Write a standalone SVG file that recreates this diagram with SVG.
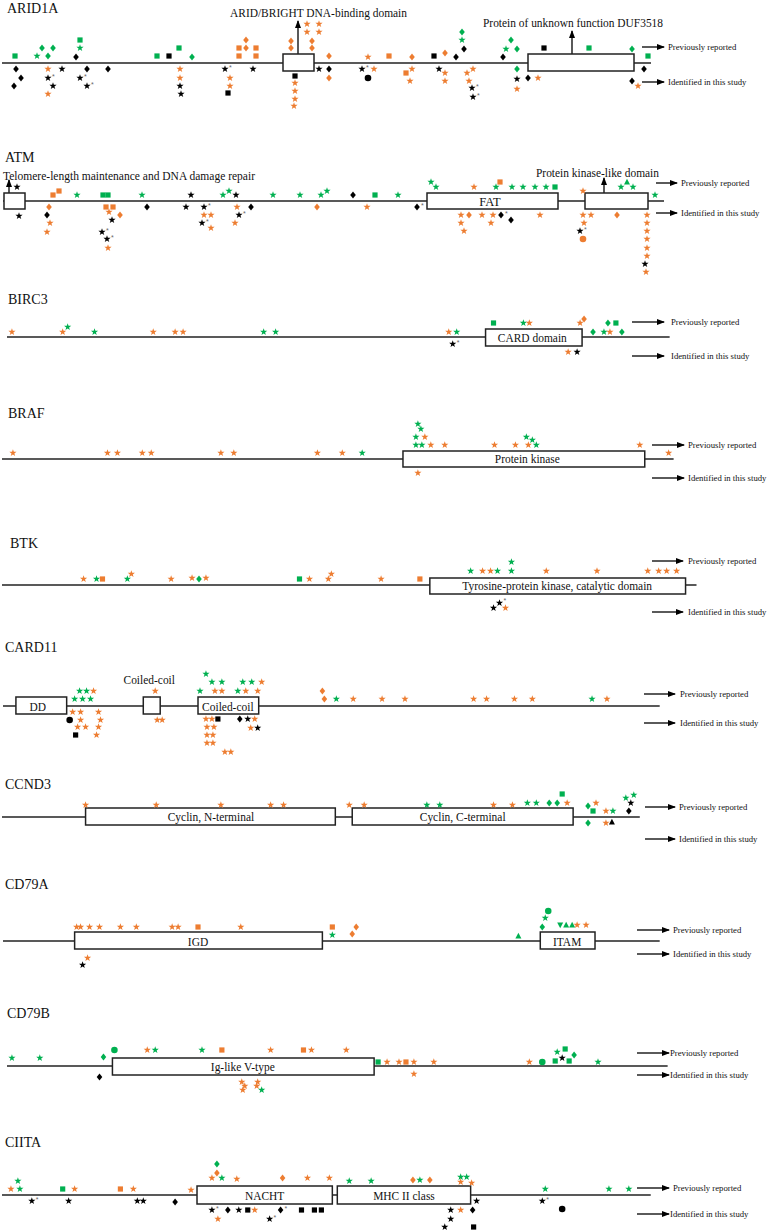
<svg xmlns="http://www.w3.org/2000/svg" xmlns:xlink="http://www.w3.org/1999/xlink" width="768" height="1232" viewBox="0 0 768 1232">
<style>
.t{font-family:"Liberation Serif",serif;font-size:14px;fill:#111}
.d{font-family:"Liberation Serif",serif;font-size:11.5px;text-anchor:middle;fill:#111}
.lab{font-family:"Liberation Serif",serif;font-size:11.5px;fill:#111}
.lg{font-family:"Liberation Serif",serif;font-size:8.7px;fill:#111}
.ln{stroke:#222;stroke-width:1.5;fill:none}
.bx{fill:#fff;stroke:#222;stroke-width:1.5}
.ar{stroke:#000;stroke-width:1.3;fill:none;marker-end:url(#ah)}
.o{fill:#ED7D31}.g{fill:#00B050}.k{fill:#000}
.a{font-family:"Liberation Sans",sans-serif;font-size:7px;fill:#666}
</style>
<defs>
<marker id="ah" markerWidth="8" markerHeight="6" refX="7" refY="3" orient="auto" markerUnits="userSpaceOnUse"><path d="M0,0 L8,3 L0,6 z" fill="#000"/></marker>
<polygon id="S" points="0,-3.8 0.88,-1.21 3.61,-1.17 1.43,0.46 2.23,3.07 0,1.5 -2.23,3.07 -1.43,0.46 -3.61,-1.17 -0.88,-1.21"/>
<polygon id="D" points="0,-3.6 2.8,0 0,3.6 -2.8,0"/>
<rect id="Q" x="-2.6" y="-2.6" width="5.2" height="5.2"/>
<circle id="C" r="3.3"/>
<polygon id="T" points="0,-3.2 3,2.6 -3,2.6"/>
<polygon id="V" points="0,3.2 3,-2.6 -3,-2.6"/>
</defs>
<rect width="768" height="1232" fill="#fff"/>

<g id="connectors">
<line class="ar" x1="298" y1="54" x2="298" y2="21"/>
<line class="ar" x1="572" y1="54" x2="572" y2="31"/>
<line class="ar" x1="642" y1="47" x2="664" y2="47"/>
<line class="ar" x1="642" y1="82" x2="664" y2="82"/>
<line class="ar" x1="9" y1="193" x2="9" y2="180"/>
<line class="ar" x1="604" y1="193" x2="604" y2="178"/>
<line class="ar" x1="656" y1="183" x2="677" y2="183"/>
<line class="ar" x1="656" y1="213" x2="677" y2="213"/>
<line class="ar" x1="632" y1="322" x2="664" y2="322"/>
<line class="ar" x1="632" y1="356" x2="664" y2="356"/>
<line class="ar" x1="652" y1="445" x2="684" y2="445"/>
<line class="ar" x1="652" y1="478" x2="684" y2="478"/>
<line class="ar" x1="652" y1="561" x2="683" y2="561"/>
<line class="ar" x1="652" y1="612" x2="683" y2="612"/>
<line class="ar" x1="644" y1="694" x2="675" y2="694"/>
<line class="ar" x1="644" y1="723" x2="675" y2="723"/>
<line class="ar" x1="645" y1="807" x2="675" y2="807"/>
<line class="ar" x1="645" y1="839" x2="675" y2="839"/>
<line class="ar" x1="637" y1="930" x2="669" y2="930"/>
<line class="ar" x1="637" y1="954" x2="669" y2="954"/>
<line class="ar" x1="637" y1="1053" x2="669" y2="1053"/>
<line class="ar" x1="637" y1="1075" x2="669" y2="1075"/>
<line class="ar" x1="637" y1="1188" x2="669" y2="1188"/>
<line class="ar" x1="637" y1="1214" x2="669" y2="1214"/>
</g>

<g id="arid1a">
<text class="t" x="7" y="13">ARID1A</text>
<text class="lab" x="230" y="17" textLength="177" lengthAdjust="spacingAndGlyphs">ARID/BRIGHT DNA-binding domain</text>
<text class="lab" x="483" y="27" textLength="180" lengthAdjust="spacingAndGlyphs">Protein of unknown function DUF3518</text>
<text class="lg" x="668" y="50">Previously reported</text>
<text class="lg" x="668" y="85">Identified in  this study</text>
<line class="ln" x1="2" y1="63" x2="651" y2="63"/>
<rect class="bx" x="283" y="54" width="31" height="17"/>
<rect class="bx" x="528" y="54" width="106" height="17"/>
<use href="#Q" class="g" x="15" y="56"/><use href="#D" class="g" x="42" y="48"/><use href="#D" class="g" x="53" y="48"/><use href="#S" class="g" x="37" y="56"/><use href="#D" class="g" x="48" y="56"/><use href="#Q" class="g" x="80" y="40"/><use href="#S" class="g" x="80" y="48"/><use href="#D" class="k" x="76" y="57"/>
<use href="#Q" class="g" x="157" y="56"/><use href="#Q" class="k" x="169" y="56"/><use href="#Q" class="g" x="179" y="48"/><use href="#D" class="g" x="192" y="57"/>
<use href="#D" class="o" x="246" y="40"/><use href="#Q" class="o" x="239" y="48"/><use href="#D" class="o" x="246" y="48"/><use href="#Q" class="o" x="256" y="48"/><use href="#Q" class="o" x="239" y="56"/><use href="#Q" class="o" x="256" y="56"/>
<use href="#D" class="o" x="291" y="41"/><use href="#D" class="o" x="291" y="48"/><use href="#D" class="o" x="312" y="41"/><use href="#D" class="o" x="312" y="48"/>
<use href="#S" class="o" x="307" y="24"/><use href="#S" class="o" x="319" y="24"/><use href="#S" class="o" x="307" y="32"/><use href="#S" class="o" x="319" y="32"/>
<use href="#D" class="o" x="329" y="56"/><use href="#S" class="o" x="368" y="57"/>
<use href="#Q" class="o" x="389" y="56"/><use href="#D" class="o" x="412" y="57"/><use href="#Q" class="k" x="434" y="56"/><use href="#D" class="o" x="445" y="53"/><use href="#D" class="k" x="456" y="57"/><use href="#D" class="k" x="464" y="49"/><use href="#S" class="g" x="462" y="40"/><use href="#D" class="g" x="462" y="32"/>
<use href="#D" class="k" x="503" y="57"/><use href="#S" class="g" x="506" y="49"/><use href="#D" class="g" x="511" y="40"/><use href="#D" class="g" x="517" y="49"/><use href="#Q" class="k" x="544" y="48"/><use href="#Q" class="g" x="589" y="48"/><use href="#D" class="g" x="632" y="49"/><use href="#Q" class="g" x="648" y="56"/>
<use href="#D" class="k" x="16" y="69"/><use href="#D" class="k" x="21" y="78"/><use href="#D" class="k" x="14" y="86"/>
<use href="#S" class="o" x="48" y="69"/><use href="#S" class="k" x="48" y="78"/><text class="a" x="52" y="79">*</text><use href="#S" class="k" x="53" y="86"/><use href="#S" class="o" x="48" y="94"/>
<use href="#S" class="k" x="62" y="69"/>
<use href="#D" class="k" x="87" y="69"/><use href="#S" class="k" x="80" y="78"/><text class="a" x="84" y="79">*</text><use href="#S" class="k" x="87" y="86"/><text class="a" x="91" y="87">*</text>
<use href="#D" class="k" x="108" y="69"/>
<use href="#S" class="o" x="180" y="69"/><use href="#S" class="o" x="180" y="78"/><use href="#S" class="k" x="180" y="86"/><use href="#S" class="k" x="181" y="94"/>
<use href="#S" class="k" x="225" y="69"/><text class="a" x="229" y="70">*</text><use href="#S" class="o" x="230" y="78"/><use href="#S" class="o" x="230" y="86"/><use href="#Q" class="k" x="228" y="93"/>
<use href="#S" class="k" x="253" y="69"/>
<use href="#Q" class="k" x="295" y="76"/><use href="#S" class="o" x="295" y="83"/><use href="#S" class="o" x="295" y="91"/><use href="#S" class="o" x="295" y="99"/><use href="#S" class="o" x="294" y="106"/>
<use href="#S" class="k" x="319" y="69"/><use href="#D" class="k" x="329" y="69"/><use href="#D" class="o" x="329" y="78"/>
<use href="#S" class="k" x="362" y="69"/><text class="a" x="366" y="70">*</text><use href="#S" class="o" x="374" y="69"/><use href="#C" class="k" x="368" y="78"/>
<use href="#Q" class="o" x="406" y="73"/><use href="#S" class="o" x="412" y="69"/><use href="#S" class="o" x="410" y="81"/>
<use href="#S" class="k" x="439" y="69"/><use href="#S" class="o" x="445" y="73"/><use href="#S" class="o" x="445" y="81"/>
<use href="#S" class="o" x="467" y="73"/><use href="#S" class="o" x="473" y="69"/><use href="#S" class="o" x="469" y="81"/><use href="#S" class="k" x="472" y="88"/><text class="a" x="476" y="89">*</text><use href="#S" class="k" x="473" y="97"/><text class="a" x="477" y="98">*</text>
<use href="#D" class="g" x="517" y="69"/><use href="#S" class="k" x="517" y="79"/><use href="#S" class="o" x="517" y="89"/>
<use href="#D" class="k" x="528" y="78"/><use href="#S" class="o" x="538" y="78"/>
<use href="#D" class="k" x="644" y="69"/><use href="#D" class="k" x="632" y="81"/><use href="#S" class="o" x="638" y="86"/>
</g>

<g id="atm">
<text class="t" x="5" y="162">ATM</text>
<text class="lab" x="3" y="180" textLength="252" lengthAdjust="spacingAndGlyphs">Telomere-length maintenance and DNA damage repair</text>
<text class="lab" x="536" y="177" textLength="123" lengthAdjust="spacingAndGlyphs">Protein kinase-like domain</text>
<text class="lg" x="681" y="186">Previously reported</text>
<text class="lg" x="681" y="216">Identified in  this study</text>
<line class="ln" x1="3" y1="201" x2="664" y2="201"/>
<rect class="bx" x="4" y="193" width="21" height="16"/>
<rect class="bx" x="427" y="193" width="131" height="16"/>
<rect class="bx" x="585" y="193" width="63" height="16"/>
<text class="d" x="490" y="206" style="font-size:12.5px">FAT</text>
<use href="#S" class="k" x="17" y="187"/><use href="#Q" class="o" x="53" y="195"/><use href="#Q" class="o" x="59" y="191"/><use href="#S" class="g" x="77" y="195"/><use href="#Q" class="g" x="103" y="195"/><use href="#Q" class="g" x="108" y="195"/><use href="#S" class="g" x="142" y="195"/><use href="#S" class="k" x="191" y="195"/>
<use href="#S" class="g" x="223" y="195"/><use href="#S" class="g" x="229" y="191"/><use href="#S" class="k" x="236" y="195"/><use href="#S" class="g" x="273" y="195"/><use href="#S" class="g" x="300" y="195"/><use href="#S" class="g" x="321" y="195"/><use href="#S" class="g" x="327" y="191"/><use href="#D" class="k" x="353" y="195"/><use href="#Q" class="g" x="375" y="195"/>
<use href="#S" class="g" x="398" y="195"/><use href="#S" class="g" x="431" y="182"/><use href="#S" class="g" x="436" y="187"/><use href="#S" class="o" x="474" y="187"/><use href="#Q" class="o" x="500" y="182"/><use href="#S" class="g" x="496" y="187"/><use href="#S" class="g" x="512" y="187"/><use href="#S" class="g" x="523" y="187"/><use href="#S" class="g" x="535" y="187"/><use href="#S" class="g" x="546" y="187"/><use href="#Q" class="g" x="555" y="187"/><use href="#S" class="o" x="583" y="191"/><use href="#S" class="g" x="621" y="187"/><use href="#T" class="g" x="627" y="182"/><use href="#S" class="g" x="633" y="187"/><use href="#S" class="g" x="655" y="195"/>
<use href="#S" class="k" x="19" y="216"/><use href="#D" class="o" x="49" y="207"/><use href="#D" class="k" x="47" y="215"/><use href="#S" class="o" x="50" y="223"/><use href="#S" class="o" x="47" y="232"/>
<use href="#Q" class="o" x="106" y="207"/><use href="#Q" class="o" x="113" y="207"/><use href="#S" class="o" x="109" y="212"/><use href="#D" class="o" x="120" y="215"/><use href="#S" class="k" x="112" y="220"/><use href="#S" class="k" x="102" y="232"/><text class="a" x="106" y="233">*</text><use href="#S" class="k" x="107" y="239"/><text class="a" x="111" y="240">*</text><use href="#S" class="o" x="108" y="248"/>
<use href="#D" class="k" x="147" y="207"/>
<use href="#S" class="k" x="186" y="207"/><use href="#S" class="k" x="204" y="207"/><text class="a" x="208" y="208">*</text><use href="#S" class="o" x="204" y="215"/><use href="#S" class="o" x="211" y="215"/><use href="#S" class="k" x="202" y="223"/><text class="a" x="206" y="224">*</text><use href="#S" class="o" x="211" y="228"/>
<use href="#S" class="o" x="237" y="207"/><use href="#S" class="k" x="239" y="215"/><text class="a" x="243" y="216">*</text><use href="#S" class="o" x="235" y="223"/><use href="#D" class="k" x="251" y="207"/>
<use href="#D" class="o" x="317" y="207"/><use href="#S" class="o" x="367" y="207"/>
<use href="#D" class="k" x="417" y="207"/><text class="a" x="421" y="208">*</text>
<use href="#S" class="o" x="461" y="215"/><use href="#D" class="o" x="469" y="215"/><use href="#S" class="o" x="482" y="215"/><use href="#S" class="o" x="493" y="215"/><use href="#D" class="k" x="501" y="215"/><text class="a" x="505" y="216">*</text><use href="#D" class="k" x="511" y="220"/><use href="#S" class="o" x="540" y="215"/>
<use href="#S" class="o" x="461" y="223"/><use href="#S" class="o" x="491" y="223"/><use href="#S" class="o" x="464" y="231"/>
<use href="#S" class="o" x="583" y="215"/><use href="#S" class="o" x="591" y="215"/><use href="#S" class="o" x="584" y="223"/><use href="#S" class="k" x="580" y="231"/><text class="a" x="584" y="232">*</text><use href="#C" class="o" x="583" y="239"/>
<use href="#D" class="o" x="617" y="215"/>
<use href="#S" class="o" x="647" y="215"/><use href="#S" class="o" x="647" y="223"/><use href="#S" class="o" x="647" y="231"/><use href="#S" class="o" x="647" y="239"/><use href="#S" class="o" x="647" y="248"/><use href="#S" class="o" x="647" y="256"/><use href="#S" class="k" x="645" y="264"/><use href="#S" class="o" x="646" y="272"/>
</g>

<g id="birc3">
<text class="t" x="8" y="304">BIRC3</text>
<text class="lg" x="671" y="325">Previously reported</text>
<text class="lg" x="671" y="359">Identified in  this study</text>
<g transform="scale(0.995 1)">
<line class="ln" x1="7" y1="337" x2="673" y2="337"/>
<rect class="bx" x="488" y="329" width="97" height="17"/>
<text class="d" x="535" y="342">CARD domain</text>
<use href="#S" class="o" x="12" y="332"/><use href="#S" class="o" x="63" y="332"/><use href="#S" class="g" x="68" y="327"/><use href="#S" class="g" x="95" y="332"/><use href="#S" class="o" x="154" y="332"/><use href="#S" class="o" x="176" y="332"/><use href="#S" class="o" x="184" y="332"/><use href="#S" class="g" x="265" y="332"/><use href="#S" class="g" x="277" y="332"/><use href="#S" class="o" x="451" y="332"/><use href="#S" class="g" x="459" y="332"/>
<use href="#Q" class="g" x="496" y="323"/><use href="#S" class="g" x="526" y="323"/><use href="#S" class="o" x="532" y="323"/><use href="#S" class="o" x="583" y="323"/><use href="#D" class="o" x="587" y="319"/><use href="#D" class="g" x="596" y="332"/><use href="#D" class="g" x="611" y="323"/><use href="#Q" class="g" x="619" y="323"/><use href="#S" class="g" x="607" y="332"/><use href="#S" class="o" x="613" y="332"/><use href="#D" class="g" x="625" y="332"/>
<use href="#S" class="k" x="455" y="344"/><text class="a" x="459" y="345">*</text><use href="#S" class="o" x="571" y="352"/><use href="#S" class="k" x="580" y="352"/>
</g>
</g>

<g id="braf">
<text class="t" x="8" y="418">BRAF</text>
<text class="lg" x="688" y="448">Previously reported</text>
<text class="lg" x="688" y="481">Identified in  this study</text>
<g transform="scale(0.995 1)">
<line class="ln" x1="2" y1="459" x2="677" y2="459"/>
<rect class="bx" x="405" y="451" width="243" height="16"/>
<text class="d" x="530" y="463">Protein kinase</text>
<use href="#S" class="o" x="13" y="453"/><use href="#S" class="o" x="108" y="453"/><use href="#S" class="o" x="118" y="453"/><use href="#S" class="o" x="143" y="453"/><use href="#S" class="o" x="152" y="453"/><use href="#S" class="o" x="222" y="453"/><use href="#S" class="o" x="235" y="453"/><use href="#S" class="o" x="319" y="453"/><use href="#S" class="o" x="344" y="453"/><use href="#S" class="g" x="364" y="453"/>
<use href="#S" class="g" x="418" y="445"/><use href="#S" class="g" x="424" y="445"/><use href="#S" class="g" x="418" y="437"/><use href="#S" class="o" x="427" y="437"/><use href="#S" class="g" x="423" y="429"/><use href="#S" class="g" x="420" y="424"/><use href="#S" class="o" x="433" y="445"/><use href="#S" class="o" x="447" y="445"/><use href="#S" class="o" x="497" y="445"/><use href="#S" class="o" x="518" y="445"/><use href="#S" class="o" x="531" y="445"/><use href="#S" class="g" x="539" y="445"/><use href="#S" class="g" x="535" y="440"/><use href="#S" class="g" x="529" y="437"/><use href="#S" class="o" x="643" y="445"/><use href="#S" class="o" x="672" y="453"/>
<use href="#S" class="o" x="420" y="473"/>
</g>
</g>

<g id="btk">
<text class="t" x="10" y="548">BTK</text>
<text class="lg" x="688" y="564">Previously reported</text>
<text class="lg" x="688" y="615">Identified in  this study</text>
<g transform="scale(0.995 1)">
<line class="ln" x1="2" y1="585" x2="700" y2="585"/>
<rect class="bx" x="432" y="578" width="257" height="16"/>
<text class="d" x="560" y="590">Tyrosine-protein kinase, catalytic domain</text>
<use href="#S" class="o" x="84" y="579"/><use href="#S" class="g" x="97" y="579"/><use href="#Q" class="o" x="103" y="579"/><use href="#S" class="g" x="128" y="579"/><use href="#S" class="o" x="132" y="574"/><use href="#S" class="o" x="172" y="579"/><use href="#S" class="o" x="193" y="578"/><use href="#D" class="g" x="200" y="579"/><use href="#S" class="o" x="207" y="578"/><use href="#Q" class="g" x="301" y="579"/><use href="#S" class="o" x="311" y="579"/><use href="#S" class="o" x="330" y="579"/><use href="#S" class="o" x="333" y="574"/><use href="#S" class="o" x="383" y="579"/><use href="#Q" class="o" x="422" y="579"/>
<use href="#S" class="g" x="473" y="571"/><use href="#S" class="o" x="485" y="571"/><use href="#S" class="o" x="493" y="571"/><use href="#S" class="g" x="500" y="571"/><use href="#S" class="g" x="514" y="571"/><use href="#S" class="g" x="514" y="562"/><use href="#S" class="o" x="549" y="571"/><use href="#S" class="o" x="600" y="571"/><use href="#S" class="o" x="651" y="571"/><use href="#S" class="o" x="662" y="571"/><use href="#S" class="o" x="670" y="571"/><use href="#S" class="o" x="680" y="571"/>
<use href="#S" class="k" x="496" y="608"/><use href="#S" class="k" x="502" y="603"/><text class="a" x="506" y="603">*</text><use href="#S" class="o" x="508" y="608"/>
</g>
</g>

<g id="card11">
<text class="t" x="5" y="652">CARD11</text>
<text class="lg" x="680" y="697">Previously reported</text>
<text class="lg" x="680" y="726">Identified in  this study</text>
<g transform="scale(0.995 1)">
<line class="ln" x1="3" y1="706" x2="663" y2="706"/>
<rect class="bx" x="16" y="697" width="51" height="17"/>
<rect class="bx" x="144" y="697" width="17" height="17"/>
<rect class="bx" x="199" y="697" width="61" height="17"/>
<text class="d" x="38" y="711">DD</text>
<text class="d" x="150" y="684">Coiled-coil</text>
<text class="d" x="229" y="711">Coiled-coil</text>
<use href="#S" class="g" x="75" y="699"/><use href="#S" class="g" x="83" y="699"/><use href="#S" class="g" x="91" y="699"/><use href="#S" class="g" x="80" y="691"/><use href="#S" class="g" x="87" y="691"/><use href="#S" class="o" x="94" y="691"/>
<use href="#S" class="o" x="156" y="691"/>
<use href="#S" class="g" x="201" y="691"/><use href="#S" class="o" x="216" y="691"/><use href="#S" class="o" x="223" y="691"/><use href="#S" class="g" x="239" y="691"/><use href="#S" class="o" x="247" y="691"/><use href="#S" class="o" x="259" y="691"/><use href="#S" class="g" x="213" y="682"/><use href="#S" class="g" x="223" y="682"/><use href="#S" class="g" x="244" y="682"/><use href="#S" class="g" x="253" y="682"/><use href="#S" class="o" x="263" y="682"/><use href="#S" class="g" x="207" y="674"/>
<use href="#D" class="o" x="324" y="691"/><use href="#D" class="o" x="326" y="699"/><use href="#S" class="g" x="338" y="699"/><use href="#S" class="o" x="355" y="699"/><use href="#S" class="o" x="384" y="699"/><use href="#S" class="o" x="407" y="699"/><use href="#S" class="o" x="476" y="699"/><use href="#S" class="o" x="489" y="699"/><use href="#S" class="o" x="517" y="699"/><use href="#S" class="o" x="535" y="699"/><use href="#S" class="g" x="595" y="699"/><use href="#S" class="o" x="610" y="699"/>
<use href="#S" class="o" x="73" y="712"/><use href="#S" class="o" x="81" y="712"/><use href="#S" class="o" x="99" y="712"/><use href="#C" class="k" x="70" y="720"/><use href="#S" class="o" x="81" y="720"/><use href="#S" class="o" x="101" y="720"/><use href="#S" class="o" x="78" y="727"/><use href="#S" class="o" x="86" y="727"/><use href="#S" class="o" x="99" y="727"/><use href="#Q" class="k" x="76" y="735"/><use href="#S" class="o" x="97" y="735"/>
<use href="#S" class="o" x="158" y="720"/><use href="#S" class="o" x="163" y="720"/>
<use href="#S" class="o" x="207" y="719"/><use href="#S" class="o" x="213" y="719"/><use href="#Q" class="k" x="219" y="719"/><use href="#S" class="o" x="208" y="727"/><use href="#S" class="o" x="215" y="727"/><use href="#S" class="o" x="208" y="735"/><use href="#S" class="o" x="214" y="735"/><use href="#S" class="o" x="208" y="743"/><use href="#S" class="o" x="214" y="743"/><use href="#S" class="o" x="226" y="752"/><use href="#S" class="o" x="232" y="752"/>
<use href="#D" class="k" x="241" y="719"/><use href="#S" class="k" x="249" y="719"/><use href="#S" class="o" x="256" y="719"/><use href="#S" class="o" x="252" y="728"/><use href="#S" class="k" x="259" y="728"/>
</g>
</g>

<g id="ccnd3">
<text class="t" x="5" y="789">CCND3</text>
<text class="lg" x="679" y="810">Previously reported</text>
<text class="lg" x="679" y="842">Identified in  this study</text>
<g transform="scale(0.995 1)">
<line class="ln" x1="2" y1="817" x2="643" y2="817"/>
<rect class="bx" x="86" y="808" width="251" height="17"/>
<rect class="bx" x="354" y="808" width="222" height="17"/>
<text class="d" x="212" y="821">Cyclin, N-terminal</text>
<text class="d" x="465" y="821">Cyclin, C-terminal</text>
<use href="#S" class="o" x="86" y="805"/><use href="#S" class="o" x="157" y="805"/><use href="#S" class="o" x="222" y="805"/><use href="#S" class="o" x="272" y="805"/><use href="#S" class="o" x="285" y="805"/><use href="#S" class="o" x="351" y="805"/><use href="#S" class="o" x="366" y="805"/><use href="#S" class="g" x="429" y="805"/><use href="#S" class="g" x="442" y="805"/><use href="#S" class="o" x="496" y="805"/><use href="#S" class="o" x="515" y="805"/>
<use href="#S" class="g" x="530" y="803"/><use href="#S" class="g" x="539" y="803"/><use href="#D" class="g" x="552" y="803"/><use href="#D" class="g" x="560" y="803"/><use href="#S" class="o" x="570" y="803"/><use href="#Q" class="g" x="565" y="794"/>
<use href="#D" class="g" x="591" y="806"/><use href="#Q" class="g" x="596" y="811"/><use href="#S" class="o" x="599" y="803"/><use href="#S" class="o" x="609" y="811"/><use href="#S" class="g" x="616" y="811"/><use href="#S" class="g" x="629" y="798"/><use href="#S" class="g" x="637" y="795"/><use href="#S" class="k" x="634" y="803"/><use href="#D" class="k" x="632" y="811"/>
<use href="#D" class="g" x="591" y="823"/><use href="#S" class="o" x="609" y="823"/><use href="#T" class="k" x="615" y="822"/>
</g>
</g>

<g id="cd79a">
<text class="t" x="5" y="889">CD79A</text>
<text class="lg" x="673" y="933">Previously reported</text>
<text class="lg" x="673" y="957">Identified in  this study</text>
<g transform="scale(0.995 1)">
<line class="ln" x1="3" y1="941" x2="663" y2="941"/>
<rect class="bx" x="75" y="932" width="249" height="17"/>
<rect class="bx" x="543" y="932" width="55" height="17"/>
<text class="d" x="199" y="946">IGD</text>
<text class="d" x="570" y="946">ITAM</text>
<use href="#S" class="o" x="77" y="927"/><use href="#S" class="o" x="81" y="927"/><use href="#S" class="o" x="90" y="927"/><use href="#S" class="o" x="100" y="927"/><use href="#S" class="o" x="121" y="927"/><use href="#S" class="o" x="137" y="927"/><use href="#S" class="o" x="173" y="927"/><use href="#S" class="o" x="179" y="927"/><use href="#Q" class="o" x="199" y="927"/><use href="#S" class="o" x="242" y="927"/>
<use href="#Q" class="o" x="334" y="927"/><use href="#S" class="g" x="334" y="935"/><use href="#D" class="o" x="358" y="927"/><use href="#D" class="o" x="354" y="934"/>
<use href="#T" class="g" x="521" y="936"/><use href="#C" class="g" x="551" y="911"/><use href="#S" class="g" x="548" y="918"/><use href="#D" class="g" x="545" y="927"/><use href="#V" class="g" x="563" y="925"/><use href="#T" class="g" x="569" y="925"/><use href="#T" class="g" x="575" y="925"/><use href="#S" class="o" x="580" y="925"/><use href="#S" class="o" x="589" y="925"/>
<use href="#S" class="o" x="88" y="958"/><use href="#S" class="k" x="83" y="965"/>
</g>
</g>

<g id="cd79b">
<text class="t" x="7" y="1018">CD79B</text>
<text class="lg" x="670" y="1056">Previously reported</text>
<text class="lg" x="670" y="1078">Identified in  this study</text>
<g transform="scale(0.995 1)">
<line class="ln" x1="7" y1="1066" x2="671" y2="1066"/>
<rect class="bx" x="113" y="1058" width="263" height="17"/>
<text class="d" x="244" y="1071">Ig-like V-type</text>
<use href="#S" class="g" x="12" y="1058"/><use href="#S" class="g" x="40" y="1058"/><use href="#D" class="g" x="104" y="1057"/><use href="#C" class="g" x="115" y="1050"/><use href="#S" class="o" x="148" y="1050"/><use href="#S" class="g" x="156" y="1050"/><use href="#S" class="g" x="203" y="1050"/><use href="#Q" class="o" x="223" y="1050"/><use href="#S" class="o" x="272" y="1050"/><use href="#Q" class="o" x="305" y="1050"/><use href="#S" class="o" x="313" y="1050"/><use href="#S" class="o" x="348" y="1050"/>
<use href="#Q" class="g" x="380" y="1062"/><use href="#S" class="o" x="389" y="1062"/><use href="#S" class="o" x="401" y="1062"/><use href="#Q" class="o" x="408" y="1062"/><use href="#S" class="o" x="416" y="1062"/><use href="#S" class="o" x="436" y="1062"/><use href="#S" class="o" x="532" y="1062"/><use href="#C" class="g" x="545" y="1062"/>
<use href="#Q" class="g" x="558" y="1061"/><use href="#S" class="g" x="560" y="1052"/><use href="#Q" class="g" x="568" y="1049"/><use href="#S" class="k" x="565" y="1058"/><use href="#Q" class="g" x="572" y="1061"/><use href="#D" class="g" x="577" y="1055"/><use href="#S" class="g" x="601" y="1062"/>
<use href="#D" class="k" x="100" y="1077"/><use href="#S" class="o" x="416" y="1074"/>
<use href="#S" class="o" x="243" y="1082"/><use href="#S" class="o" x="259" y="1082"/><use href="#S" class="o" x="246" y="1086"/><use href="#S" class="o" x="258" y="1086"/><use href="#S" class="o" x="244" y="1090"/><use href="#S" class="g" x="263" y="1090"/>
</g>
</g>

<g id="ciita">
<text class="t" x="5" y="1147">CIITA</text>
<text class="lg" x="673" y="1191">Previously reported</text>
<text class="lg" x="670" y="1217">Identified in  this study</text>
<g transform="scale(0.995 1)">
<line class="ln" x1="2" y1="1195" x2="654" y2="1195"/>
<rect class="bx" x="198" y="1186" width="136" height="18"/>
<rect class="bx" x="339" y="1186" width="134" height="18"/>
<text class="d" x="266" y="1200">NACHT</text>
<text class="d" x="406" y="1200">MHC II class</text>
<use href="#S" class="o" x="11" y="1189"/><use href="#S" class="g" x="20" y="1189"/><use href="#S" class="g" x="18" y="1181"/><use href="#Q" class="g" x="63" y="1189"/><use href="#S" class="o" x="75" y="1189"/><use href="#Q" class="o" x="121" y="1189"/><use href="#S" class="o" x="134" y="1189"/><use href="#S" class="o" x="192" y="1190"/>
<use href="#S" class="o" x="213" y="1178"/><use href="#S" class="g" x="223" y="1178"/><use href="#D" class="o" x="218" y="1173"/><use href="#D" class="g" x="218" y="1164"/><use href="#S" class="o" x="238" y="1179"/><use href="#D" class="o" x="284" y="1178"/><use href="#S" class="o" x="309" y="1178"/><use href="#S" class="o" x="331" y="1178"/>
<use href="#S" class="g" x="351" y="1181"/><use href="#S" class="g" x="373" y="1181"/><use href="#D" class="o" x="415" y="1180"/><use href="#S" class="g" x="422" y="1180"/><use href="#D" class="o" x="432" y="1180"/><use href="#S" class="g" x="463" y="1177"/><use href="#S" class="g" x="469" y="1177"/><use href="#S" class="o" x="463" y="1182"/><use href="#S" class="o" x="474" y="1183"/>
<use href="#S" class="g" x="548" y="1189"/><use href="#S" class="g" x="612" y="1189"/><use href="#S" class="g" x="632" y="1189"/>
<use href="#S" class="k" x="32" y="1201"/><text class="a" x="36" y="1202">*</text><use href="#S" class="k" x="69" y="1201"/><use href="#S" class="k" x="138" y="1201"/><use href="#S" class="k" x="144" y="1201"/><use href="#D" class="k" x="176" y="1202"/>
<use href="#S" class="k" x="213" y="1210"/><text class="a" x="217" y="1211">*</text><use href="#D" class="k" x="229" y="1210"/><use href="#S" class="k" x="240" y="1210"/><use href="#Q" class="k" x="249" y="1210"/><use href="#S" class="o" x="256" y="1210"/><use href="#S" class="o" x="219" y="1219"/>
<use href="#D" class="k" x="282" y="1210"/><text class="a" x="286" y="1211">*</text><use href="#S" class="k" x="271" y="1219"/><text class="a" x="275" y="1220">*</text><use href="#Q" class="k" x="303" y="1210"/><use href="#Q" class="k" x="316" y="1210"/><use href="#Q" class="k" x="323" y="1210"/>
<use href="#S" class="k" x="453" y="1210"/><use href="#S" class="o" x="463" y="1210"/><use href="#D" class="k" x="475" y="1210"/><use href="#S" class="k" x="453" y="1219"/><use href="#S" class="k" x="447" y="1227"/><use href="#Q" class="k" x="476" y="1227"/><use href="#S" class="k" x="479" y="1201"/>
<use href="#S" class="k" x="545" y="1201"/><text class="a" x="549" y="1202">*</text><use href="#C" class="k" x="565" y="1209"/>
</g>
</g>
</svg>
